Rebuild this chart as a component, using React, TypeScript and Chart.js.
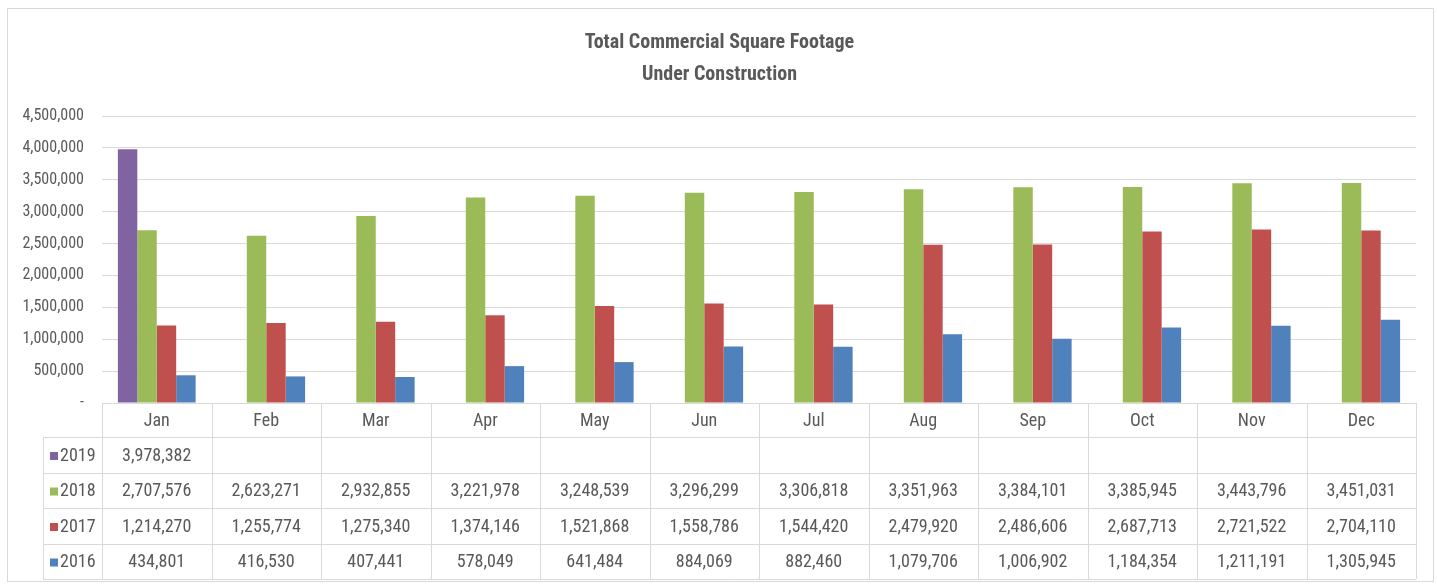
import React, { useEffect, useRef } from "react";
import { Chart, registerables } from "chart.js";

Chart.register(...registerables);

const months = ["Jan", "Feb", "Mar", "Apr", "May", "Jun", "Jul", "Aug", "Sep", "Oct", "Nov", "Dec"];
const seriesNames = ["2019", "2018", "2017", "2016"];
const values2019 = [3978382, null, null, null, null, null, null, null, null, null, null, null];
const values2018 = [2707576, 2623271, 2932855, 3221978, 3248539, 3296299, 3306818, 3351963, 3384101, 3385945, 3443796, 3451031];
const values2017 = [1214270, 1255774, 1275340, 1374146, 1521868, 1558786, 1544420, 2479920, 2486606, 2687713, 2721522, 2704110];
const values2016 = [434801, 416530, 407441, 578049, 641484, 884069, 882460, 1079706, 1006902, 1184354, 1211191, 1305945];
const seriesColors = ["#8064A2", "#9BBB59", "#C0504D", "#4F81BD"];
const titleLines = ["Total Commercial Square Footage", "Under Construction"];

const FONT = "'Liberation Sans Narrow', 'Roboto Condensed', 'Liberation Sans', Arial, sans-serif";
const TEXT = "#595959";
const LINE = "#d9d9d9";

const fmt = (v: number) => v.toLocaleString("en-US");

const tablePlugin = {
  id: "tablePlugin",
  afterDraw(chart: any) {
    const ctx = chart.ctx as CanvasRenderingContext2D;
    const area = chart.chartArea;
    const xs = chart.scales.x;
    const n = months.length;
    const cw = (area.right - area.left) / n;
    ctx.save();
    // title
    ctx.fillStyle = TEXT;
    ctx.textAlign = "center";
    ctx.textBaseline = "middle";
    ctx.font = `bold 20px ${FONT}`;
    ctx.fillText(titleLines[0], chart.width / 2 + 1, 43);
    ctx.fillText(titleLines[1], chart.width / 2 + 1, 75);

    // table geometry
    const top = area.bottom;
    const rowTops = [top, 437, 473, 508, 544, 579];
    const legendLeft = 43;
    ctx.strokeStyle = LINE;
    ctx.lineWidth = 1;
    ctx.beginPath();
    ctx.moveTo(area.left, top + 0.5);
    ctx.lineTo(area.right, top + 0.5);
    for (let r = 1; r < rowTops.length; r++) {
      ctx.moveTo(legendLeft, rowTops[r] + 0.5);
      ctx.lineTo(area.right, rowTops[r] + 0.5);
    }
    for (let i = 0; i <= n; i++) {
      const c = i < n ? xs.getPixelForValue(i) - cw / 2 : xs.getPixelForValue(n - 1) + cw / 2;
      const x = Math.round(c) + 0.5;
      ctx.moveTo(x, top);
      ctx.lineTo(x, rowTops[5]);
    }
    ctx.moveTo(legendLeft + 0.5, rowTops[1]);
    ctx.lineTo(legendLeft + 0.5, rowTops[5]);
    ctx.stroke();

    ctx.font = `18px ${FONT}`;
    ctx.fillStyle = TEXT;
    ctx.textAlign = "center";
    for (let i = 0; i < n; i++) {
      ctx.fillText(months[i], xs.getPixelForValue(i), (rowTops[0] + rowTops[1]) / 2 + 1);
    }
    chart.data.datasets.forEach((ds: any, r: number) => {
      const cy = (rowTops[r + 1] + rowTops[r + 2]) / 2 + 1;
      ctx.fillStyle = ds.backgroundColor;
      ctx.fillRect(50, cy - 4, 8, 8);
      ctx.fillStyle = TEXT;
      ctx.textAlign = "left";
      ctx.fillText(ds.label, 60, cy);
      ctx.textAlign = "center";
      ds.data.forEach((v: number | null, i: number) => {
        if (v == null) return;
        ctx.fillText(fmt(v), xs.getPixelForValue(i), cy);
      });
    });

    ctx.strokeStyle = LINE;
    ctx.strokeRect(7.5, 8.5, 1426, 573);
    ctx.restore();
  },
};

export default function App() {
  const ref = useRef<HTMLCanvasElement>(null);
  useEffect(() => {
    if (!ref.current) return;
    const allValues = [values2019, values2018, values2017, values2016];
    const chart = new Chart(ref.current, {
      type: "bar",
      data: {
        labels: months,
        datasets: seriesNames.map((name, k) => ({
          label: name,
          data: allValues[k],
          backgroundColor: seriesColors[k],
          borderWidth: 0,
          barPercentage: 1,
          categoryPercentage: 0.71,
        })),
      },
      options: {
        responsive: false,
        animation: false,
        layout: { padding: { left: 0, right: 21, top: 116, bottom: 181 } },
        plugins: { legend: { display: false }, tooltip: { enabled: false }, title: { display: false } },
        scales: {
          x: { display: false },
          y: {
            min: 0,
            max: 4500000,
            ticks: {
              stepSize: 500000,
              color: TEXT,
              font: { family: FONT, size: 16 },
              padding: 18,
              callback: (v: any) => (Number(v) === 0 ? "-" : fmt(Number(v))),
            },
            grid: { color: LINE, drawTicks: false },
            border: { display: false },
            afterFit: (s: any) => {
              s.width = 102;
            },
          },
        },
      },
      plugins: [tablePlugin],
    });
    return () => chart.destroy();
  }, []);
  return (
    <div style={{ position: "absolute", left: 0, top: 0, width: 1437, height: 584, background: "#fff" }}>
      <canvas ref={ref} width={1437} height={584} />
    </div>
  );
}
